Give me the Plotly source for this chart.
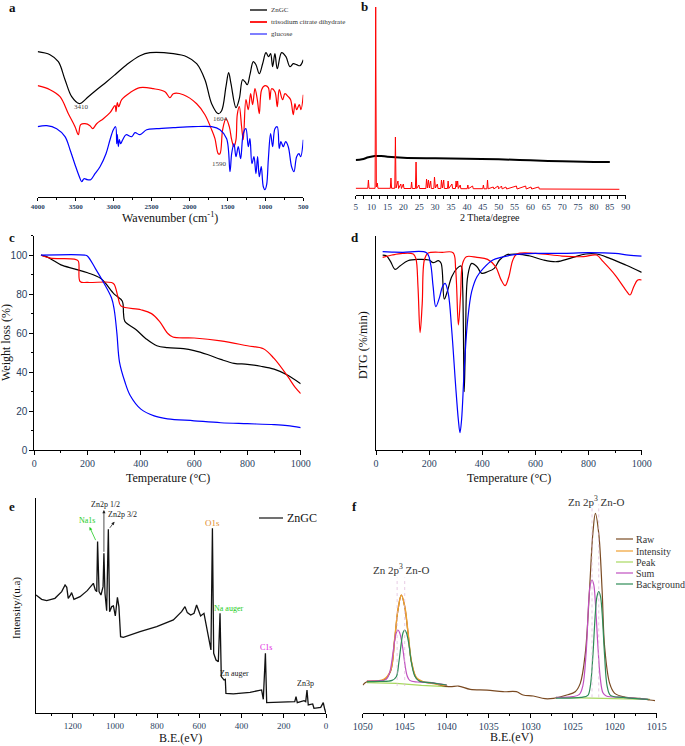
import plotly.graph_objects as go

W, H = 685, 746
SERIF = "Liberation Serif"
SANS = "Liberation Sans"

# ---------------- data ----------------
# a: FTIR (wavenumber, transmittance a.u.)
ftir_zngc_x = [4000, 3838, 3728, 3640, 3552, 3451, 3420, 3333, 3223, 3091, 2981, 2828, 2652, 2520, 2213, 2037,
               1905, 1796, 1708, 1620, 1576, 1519, 1484, 1453, 1387, 1343, 1300, 1269, 1238, 1203, 1159, 1124,
               1080, 1036, 992, 957, 931, 904, 874, 843, 786, 729, 676, 632, 588, 544, 500]
ftir_zngc_y = [145, 142, 135, 117, 100, 93, 94, 100, 107, 115, 122, 132, 141, 144, 143, 140,
               133, 117, 93, 83, 86, 110, 124, 113, 89, 98, 117, 115, 112, 122, 135, 132,
               123, 133, 144, 140, 143, 130, 143, 128, 144, 140, 130, 133, 132, 131, 137]
ftir_citrate_x = [4000, 3838, 3706, 3596, 3508, 3464, 3434, 3377, 3311, 3276, 3223, 3135, 3047, 2981, 2968, 2951,
                  2933, 2893, 2784, 2652, 2476, 2323, 2257, 2213, 2081, 1905, 1796, 1708, 1664, 1620, 1598, 1563,
                  1519, 1475, 1444, 1414, 1387, 1370, 1343, 1313, 1291, 1256, 1225, 1194, 1168, 1137, 1106, 1080,
                  1049, 1005, 961, 940, 918, 874, 843, 817, 773, 742, 698, 667, 632, 610, 588, 553, 531, 500]
ftir_citrate_y = [111, 107, 100, 83, 70, 62, 72, 73, 71, 68, 73, 78, 84, 91, 85, 94,
                  90, 97, 104, 109, 108, 105, 99, 103, 102, 93, 82, 67, 58, 43, 43, 67,
                  78, 70, 57, 50, 57, 82, 90, 70, 57, 97, 87, 103, 92, 108, 97, 83,
                  107, 111, 109, 97, 108, 105, 90, 107, 97, 103, 100, 97, 82, 93, 87, 92, 87, 102]
ftir_glucose_x = [4000, 3881, 3750, 3640, 3574, 3508, 3451, 3420, 3390, 3346, 3302, 3245, 3179, 3100, 3047, 3003,
                  2973, 2959, 2951, 2937, 2924, 2907, 2880, 2836, 2762, 2718, 2652, 2564, 2432, 2213, 1949, 1708,
                  1598, 1510, 1466, 1444, 1414, 1387, 1357, 1326, 1291, 1256, 1225, 1203, 1177, 1150, 1124, 1102,
                  1080, 1054, 1027, 1005, 983, 961, 931, 904, 874, 843, 817, 795, 764, 733, 698, 654, 623, 588,
                  557, 535, 500]
ftir_glucose_y = [70, 71, 68, 60, 47, 32, 20, 15, 18, 17, 17, 23, 30, 43, 57, 67,
                  70, 53, 62, 50, 57, 53, 57, 62, 60, 64, 62, 67, 68, 69, 70, 70,
                  67, 58, 25, 43, 53, 40, 50, 38, 63, 68, 50, 58, 33, 40, 23, 40,
                  20, 30, 10, 7, 12, 37, 63, 50, 68, 70, 48, 55, 50, 55, 50, 30, 25, 40,
                  43, 40, 57]
ftir_labels = ["3410", "1604", "1590"]
ftir_label_x = [3420, 1590, 1610]
ftir_label_y = [90, 78, 33]

# b: XRD (2 theta, intensity a.u.)
xrd_zngc_x = [5, 7, 9, 11, 13, 15, 20, 30, 40, 50, 60, 70, 80, 85]
xrd_zngc_y = [35, 35.7, 37.7, 39, 39, 38.3, 37.3, 36.7, 36.3, 35.7, 34.7, 33.7, 33, 33]
xrd_cit_x = [5, 8.8, 9.0, 9.2, 11.1, 11.3, 11.5, 11.8, 12.0, 15.9, 16.1, 16.3, 17.3, 17.5, 17.7, 18.3, 18.5,
             19.2, 19.4, 20.0, 20.2, 22.4, 22.6, 22.8, 23.8, 24.0, 24.2, 24.9, 25.1, 27.1, 27.3, 27.6, 27.9,
             28.2, 28.6, 28.8, 29.6, 29.8, 30.1, 30.7, 30.9, 31.8, 32.0, 32.3, 32.7, 32.9, 33.9, 34.1, 34.3,
             35.3, 35.5, 36.4, 36.6, 36.8, 37.1, 37.3, 37.9, 38.1, 40.1, 40.3, 40.5, 41.8, 42.0, 45.0, 45.2,
             45.4, 46.3, 46.5, 46.7, 48.3, 48.5, 49.8, 50.0, 50.9, 51.1, 52.3, 52.5, 55.6, 55.8, 58.5, 58.7,
             60.2, 60.4, 62.6, 62.8, 88]
xrd_cit_y = [6.7, 6.7, 15, 6.7, 6.7, 188, 8, 12, 6.7, 6.7, 17, 6.7, 6.7, 58, 7, 14, 6.5,
             11, 6.5, 11, 6.5, 6.5, 13, 6.5, 6.5, 33, 6.5, 10, 6.5, 6.5, 16, 7, 15,
             7, 14, 6.5, 6.5, 18, 7, 11, 6.5, 6.5, 15, 7, 15, 6.5, 6.5, 14, 6.5,
             11, 6.5, 6.5, 14, 8, 14, 6.5, 10, 6.3, 6.3, 10, 6.3, 9, 6.3, 6.3, 10,
             6.2, 6.2, 15, 6.2, 8, 6.1, 9, 6.1, 9, 6.1, 8, 6, 9, 6, 9, 6,
             8, 6, 8, 6, 5.7]

# c: TGA (temperature, weight %)
tga_zngc_t = [25, 50, 75, 100, 150, 200, 250, 300, 330, 335, 340, 380, 420, 460, 500, 560, 600, 650, 700, 750,
              800, 850, 900, 950, 1000]
tga_zngc_w = [100, 99, 97, 95, 93, 91, 88, 80, 76.5, 70, 66, 62, 57, 53.5, 52.5, 52, 51, 49, 46.5, 44.5,
              44, 43, 41.5, 38.5, 34]
tga_cit_t = [25, 60, 150, 165, 172, 200, 290, 300, 315, 325, 400, 440, 470, 500, 520, 600, 700, 800, 860, 900,
             950, 980, 1000]
tga_cit_w = [100, 98.5, 98, 97, 86.5, 86, 86, 85, 78, 74, 72, 70, 66, 60, 58, 57.5, 56, 53.5, 52, 47,
             38, 32, 29]
tga_glu_t = [25, 190, 200, 230, 260, 290, 300, 310, 320, 340, 360, 400, 450, 500, 600, 700, 800, 900, 950, 1000]
tga_glu_w = [100, 100, 99.5, 93, 86, 78, 72, 60, 45, 35, 28, 21, 17.5, 16, 15, 14, 13.5, 13, 12.5, 11.5]

# d: DTG (temperature, a.u.)
dtg_zngc_t = [25, 40, 55, 72, 90, 120, 160, 200, 215, 235, 245, 257, 268, 285, 305, 320, 326, 332, 337, 345,
              360, 380, 398, 420, 445, 465, 490, 530, 580, 630, 680, 730, 790, 830, 880, 940, 1000]
dtg_zngc_v = [585, 582, 565, 542, 552, 568, 572, 570, 562, 568, 560, 453, 475, 520, 545, 552, 490, 175, 340, 520,
              560, 550, 530, 535, 545, 570, 585, 588, 582, 570, 565, 575, 588, 588, 575, 555, 533]
dtg_cit_t = [25, 60, 100, 140, 150, 158, 166, 174, 182, 195, 250, 290, 300, 310, 318, 326, 340, 380, 420, 450,
             470, 486, 500, 515, 530, 600, 700, 780, 830, 855, 900, 940, 956, 970, 985, 1000]
dtg_cit_v = [578, 585, 590, 588, 575, 490, 352, 440, 570, 590, 593, 592, 540, 375, 460, 560, 580, 578, 572, 550,
             512, 493, 520, 570, 588, 590, 582, 580, 585, 565, 525, 480, 465, 490, 510, 510]
dtg_glu_t = [25, 60, 100, 190, 205, 215, 225, 238, 250, 260, 272, 285, 300, 310, 316, 322, 332, 345, 360, 380,
             404, 440, 470, 520, 600, 700, 800, 900, 950, 1000]
dtg_glu_v = [595, 594, 593, 592, 560, 490, 430, 455, 490, 500, 470, 360, 190, 90, 52, 90, 240, 390, 475, 520,
             545, 570, 578, 586, 590, 590, 592, 590, 585, 582]

# e: XPS survey (binding energy, intensity a.u.)
xps_be = [1374, 1347, 1323, 1284, 1252, 1236, 1228, 1221, 1210, 1205, 1194, 1165, 1131, 1102, 1093, 1086, 1082,
          1075, 1066, 1056, 1052, 1047, 1039, 1031, 1025, 1015, 1007, 998, 988, 981, 973, 960, 881, 802, 723,
          684, 668, 657, 641, 625, 613, 603, 594, 578, 565, 553, 545, 538, 532, 521, 510, 502, 496, 483, 477,
          474, 439, 360, 305, 297, 287, 281, 202, 148, 142, 136, 104, 96, 90, 84, 63, 57, 25, 13, 6, 0]
xps_int = [355, 342, 338, 345, 365, 385, 378, 345, 355, 362, 342, 350, 368, 390, 370, 365, 515,
           365, 355, 380, 480, 360, 308, 552, 305, 320, 322, 292, 348, 320, 230, 228, 245, 260, 280,
           305, 320, 302, 295, 300, 325, 310, 292, 300, 260, 220, 190, 555, 180, 160, 155, 300, 110, 100, 102,
           60, 58, 63, 70, 42, 180, 32, 35, 35, 50, 32, 38, 35, 70, 25, 28, 15, 18, 32, 12, 0]
xps_labels = ["Na1s", "Zn2p 1/2", "Zn2p 3/2", "O1s", "Na auger", "Zn auger", "C1s", "Zn3p"]
xps_label_be = [1134, 1044, 962, 539, 460, 433, 283, 97]
xps_label_int = [577, 625, 595, 570, 315, 120, 198, 88]
xps_label_color = ["#22cc22", "#222222", "#222222", "#e08a2a", "#22cc22", "#222222", "#e020e0", "#222222"]

# f: Zn 2p high resolution (binding energy, intensity a.u.)
zn_raw_be = [1050, 1049.5, 1047.5, 1046.7, 1046.2, 1045.8, 1045.4, 1045.0, 1044.6, 1044.2, 1043.6, 1042.8, 1041.8,
             1040.8, 1039.6, 1038.6, 1037.2, 1035.2, 1033.3, 1031.7, 1030.9, 1029.7, 1028.3, 1027.3, 1025.7,
             1024.7, 1024.1, 1023.5, 1023.0, 1022.6, 1022.3, 1021.9, 1021.5, 1021.2, 1020.6, 1020.0, 1018.6,
             1017.0, 1015.8, 1015.2]
zn_raw_i = [83, 93, 98, 123, 218, 308, 353, 318, 238, 153, 103, 92, 90,
            83, 78, 80, 70, 68, 63, 63, 53, 50, 42, 43, 53,
            63, 88, 178, 368, 538, 598, 538, 368, 198, 88, 58, 46,
            43, 38, 36]
zn_int_be = [1049.5, 1047.5, 1046.7, 1046.2, 1045.8, 1045.4, 1045.0, 1044.6, 1044.2, 1043.6, 1042.8, 1041.8, 1040.5,
             1040]
zn_int_i = [95, 100, 125, 220, 310, 353, 320, 240, 155, 105, 93, 88, 83, 82]
zn_sum1_be = [1049.5, 1048, 1047.2, 1046.8, 1046.5, 1046.2, 1046.0, 1045.8, 1045.6, 1045.3, 1045.0, 1044.7, 1044.4,
              1043.5, 1042, 1040.5, 1040]
zn_sum1_i = [95, 96, 100, 120, 160, 215, 240, 248, 240, 205, 150, 110, 97, 92, 90, 85, 83]
zn_bg1_be = [1049.5, 1048, 1046.5, 1046, 1045.7, 1045.4, 1045.2, 1045.0, 1044.8, 1044.5, 1044.2, 1043.8, 1043.3,
             1042, 1040]
zn_bg1_i = [93, 94, 97, 108, 150, 210, 240, 248, 240, 205, 150, 110, 95, 90, 83]
zn_sum2_be = [1027, 1025, 1024.2, 1023.8, 1023.4, 1023.1, 1022.9, 1022.7, 1022.5, 1022.3, 1022.0, 1021.7, 1021.4,
              1021, 1019, 1016]
zn_sum2_i = [46, 48, 55, 80, 180, 330, 385, 398, 385, 330, 200, 100, 60, 50, 46, 40]
zn_bg2_be = [1027, 1024, 1023.2, 1022.9, 1022.6, 1022.3, 1022.1, 1021.9, 1021.7, 1021.5, 1021.2, 1020.9, 1020.5,
             1019, 1016]
zn_bg2_i = [44, 46, 52, 80, 170, 300, 350, 363, 350, 300, 170, 80, 52, 46, 40]
zn_base1_be = [1049.5, 1046, 1043, 1040]
zn_base1_i = [90, 88, 82, 78]
zn_base2_be = [1027, 1021, 1015.8]
zn_base2_i = [46, 43, 40]
zn_center_be = [1045.9, 1045.0, 1022.7, 1021.9]
zn_center_top = [405, 405, 625, 625]
zn_center_bottom = [80, 80, 46, 46]

# ---------------- figure ----------------
def dx(a, b):
    return [a / W, b / W]


def dy(top, bottom):
    return [1 - bottom / H, 1 - top / H]


def px(x):
    return x / W


def py(y):
    return 1 - y / H


fig = go.Figure()

def line(x, y, color, ax, width=1.2, shape="linear"):
    fig.add_trace(go.Scatter(x=x, y=y, mode="lines", line=dict(color=color, width=width, shape=shape),
                             xaxis="x" + ax, yaxis="y" + ax, showlegend=False, hoverinfo="skip"))

# a
line(ftir_zngc_x, ftir_zngc_y, "#000000", "", shape="spline")
line(ftir_citrate_x, ftir_citrate_y, "#ff0000", "", shape="spline")
line(ftir_glucose_x, ftir_glucose_y, "#0000ff", "", shape="spline")
# b
line(xrd_zngc_x, xrd_zngc_y, "#000000", "2", width=2, shape="spline")
line(xrd_cit_x, xrd_cit_y, "#ff0000", "2", width=1)
# c
line(tga_zngc_t, tga_zngc_w, "#000000", "3", shape="spline")
line(tga_cit_t, tga_cit_w, "#ff0000", "3", shape="spline")
line(tga_glu_t, tga_glu_w, "#0000ff", "3", shape="spline")
# d
line(dtg_zngc_t, dtg_zngc_v, "#000000", "4", shape="spline")
line(dtg_cit_t, dtg_cit_v, "#ff0000", "4", shape="spline")
line(dtg_glu_t, dtg_glu_v, "#0000ff", "4", shape="spline")
# e
line(xps_be, xps_int, "#111111", "5", width=1.3)
# f
line(zn_base1_be, zn_base1_i, "#a8d860", "6")
line(zn_base2_be, zn_base2_i, "#a8d860", "6")
line(zn_raw_be, zn_raw_i, "#7a4a22", "6", shape="spline")
line(zn_int_be, zn_int_i, "#f0a030", "6", width=1.4, shape="spline")
line(zn_sum1_be, zn_sum1_i, "#c050c0", "6", shape="spline")
line(zn_bg1_be, zn_bg1_i, "#2e8b57", "6", shape="spline")
line(zn_sum2_be, zn_sum2_i, "#c050c0", "6", shape="spline")
line(zn_bg2_be, zn_bg2_i, "#2e8b57", "6", shape="spline")

shapes = []
annotations = []

for be, top, bot in zip(zn_center_be, zn_center_top, zn_center_bottom):
    shapes.append(dict(type="line", xref="x6", yref="y6", x0=be, x1=be, y0=bot, y1=top,
                       line=dict(color="#dcb4d8", width=0.7, dash="dot")))


def text(x, y, s, size=11, color="#111111", family=SERIF, xanchor="center", angle=0, bold=False, **kw):
    annotations.append(dict(x=x, y=y, text=s, showarrow=False, xanchor=xanchor, yanchor="middle",
                            textangle=angle, font=dict(family=family, size=size, color=color,
                                                       weight=700 if bold else 400), **kw))


def ptext(xp, yp, s, **kw):
    text(px(xp), py(yp), s, xref="paper", yref="paper", **kw)


# panel letters
for s, (xp, yp) in zip("abcdef", [(12, 7), (364, 6), (12, 237), (355, 237), (12, 506), (354, 506)]):
    ptext(xp, yp, s, size=13, bold=True)

# axis titles
ptext(170, 217, "Wavenumber (cm<sup>-1</sup>)", size=12)
ptext(490, 217, "2 Theta/degree", size=10)
ptext(168, 478, "Temperature (°C)", size=12)
ptext(509, 478, "Temperature (°C)", size=12)
ptext(6, 343, "Weight loss (%)", size=12, angle=-90)
ptext(363, 345, "DTG (%/min)", size=12, angle=-90)
ptext(180, 738, "B.E.(eV)", size=12)
ptext(16, 608, "Intensity/(u.a)", size=11, angle=-90)
ptext(512, 737, "B.E.(eV)", size=12)

# legend a
for name, color, yp in zip(["ZnGC", "trisodium citrate dihydrate", "glucose"],
                           ["#555555", "#ff2020", "#7f7fff"], [10, 22, 34]):
    shapes.append(dict(type="line", xref="paper", yref="paper", x0=px(250), x1=px(267), y0=py(yp), y1=py(yp),
                       line=dict(color=color, width=2)))
    ptext(269, yp, name, size=7, xanchor="left", color="#333333")

# legend e
shapes.append(dict(type="line", xref="paper", yref="paper", x0=px(259), x1=px(283), y0=py(518), y1=py(518),
                   line=dict(color="#111111", width=1.2)))
ptext(285, 518, "ZnGC", size=12, xanchor="left")

# legend f
for name, color, yp in zip(["Raw", "Intensity", "Peak", "Sum", "Background"],
                           ["#7a4a22", "#f0a030", "#a8d860", "#c050c0", "#2e8b57"], [539, 551, 562, 573, 584]):
    shapes.append(dict(type="line", xref="paper", yref="paper", x0=px(616), x1=px(633), y0=py(yp), y1=py(yp),
                       line=dict(color=color, width=1.2)))
    ptext(634, yp, name, size=10, xanchor="left", color="#333333")

# FTIR peak labels
for s, x, y in zip(ftir_labels, ftir_label_x, ftir_label_y):
    text(x, y, s, size=7, color="#444444", xref="x", yref="y")

# XPS labels
for s, x, y, c in zip(xps_labels, xps_label_be, xps_label_int, xps_label_color):
    text(x, y, s, size=8 if s != "O1s" else 9, color=c, xref="x5", yref="y5")
# XPS arrows (head, tail)
for (hx, hy, tx, ty, c) in [(1120, 559, 1088, 515, "#22cc22"), (1052, 610, 1052, 480, "#222222"),
                            (1002, 575, 1029, 552, "#222222")]:
    annotations.append(dict(x=hx, y=hy, ax=tx, ay=ty, xref="x5", yref="y5", axref="x5", ayref="y5",
                            text="", showarrow=True, arrowhead=2, arrowsize=0.8, arrowwidth=0.8,
                            arrowcolor=c))

# Zn 2p labels
text(1045.4, 430, "Zn 2p<sup>3</sup> Zn-O", size=11, color="#333333", xref="x6", yref="y6")
text(1022.2, 636, "Zn 2p<sup>3</sup> Zn-O", size=11, color="#333333", xref="x6", yref="y6")

ax_line = dict(showline=True, linecolor="#000000", linewidth=1, ticks="outside", tickcolor="#000000",
               showgrid=False, zeroline=False, mirror=False, automargin=False)
hidden = dict(visible=False, showgrid=False, zeroline=False, automargin=False)

fig.update_layout(
    width=W, height=H, margin=dict(l=0, r=0, t=0, b=0, pad=0, autoexpand=False),
    paper_bgcolor="white", plot_bgcolor="rgba(0,0,0,0)", showlegend=False,
    shapes=shapes, annotations=annotations,
    xaxis=dict(ax_line, domain=dx(37.7, 303.3), range=[4000, 500], dtick=500, tick0=500, ticklen=3,
               minor=dict(dtick=250, ticklen=2, ticks="outside"),
               tickfont=dict(family=SERIF, size=7, weight=700), anchor="y"),
    yaxis=dict(hidden, domain=dy(40, 196.7), range=[0, 156.7], anchor="x"),
    xaxis2=dict(ax_line, domain=dx(355.7, 625.7), range=[5, 90], dtick=5, tick0=5, ticklen=3,
                minor=dict(dtick=2.5, ticklen=3, ticks="outside"),
                tickfont=dict(family=SERIF, size=9), anchor="y2"),
    yaxis2=dict(hidden, domain=dy(5, 195), range=[0, 190], anchor="x2"),
    xaxis3=dict(ax_line, domain=dx(34.3, 300.7), range=[0, 1000], dtick=200, ticklen=4,
                minor=dict(dtick=100, ticklen=2, ticks="outside"),
                tickfont=dict(family=SERIF, size=10), anchor="y3"),
    yaxis3=dict(ax_line, domain=dy(235.7, 450), range=[0, 110], tickvals=[0, 20, 40, 60, 80, 100], ticklen=4,
                minor=dict(dtick=10, ticklen=2, ticks="outside"),
                tickfont=dict(family=SANS, size=10), anchor="x3"),
    xaxis4=dict(ax_line, domain=dx(376, 641.7), range=[0, 1000], dtick=200, ticklen=4,
                minor=dict(dtick=100, ticklen=2, ticks="outside"),
                tickfont=dict(family=SERIF, size=10), anchor="y4"),
    yaxis4=dict(showline=True, linecolor="#000000", linewidth=1, ticks="", showticklabels=False,
                showgrid=False, zeroline=False, automargin=False,
                domain=dy(235.7, 450), range=[0, 643], anchor="x4"),
    xaxis5=dict(ax_line, domain=dx(36, 326), range=[1373.7, 0], dtick=200, ticklen=4,
                minor=dict(dtick=100, ticklen=2, ticks="outside"),
                tickfont=dict(family=SERIF, size=9), anchor="y5"),
    yaxis5=dict(showline=True, linecolor="#000000", linewidth=1, ticks="", showticklabels=False,
                showgrid=False, zeroline=False, automargin=False,
                domain=dy(498.3, 713.3), range=[0, 645], anchor="x5"),
    xaxis6=dict(ax_line, domain=dx(362.7, 656.7), range=[1050, 1015], dtick=5, ticklen=4,
                minor=dict(dtick=2.5, ticklen=2, ticks="outside"),
                tickfont=dict(family=SERIF, size=10), anchor="y6"),
    yaxis6=dict(hidden, domain=dy(490, 712.7), range=[0, 668], anchor="x6"),
)

# the page body has a default 8px margin; drop it so the figure sits at the window's corner
fig.write_html("out.html", config={"displayModeBar": False},
               post_script="document.body.style.margin='0';")
